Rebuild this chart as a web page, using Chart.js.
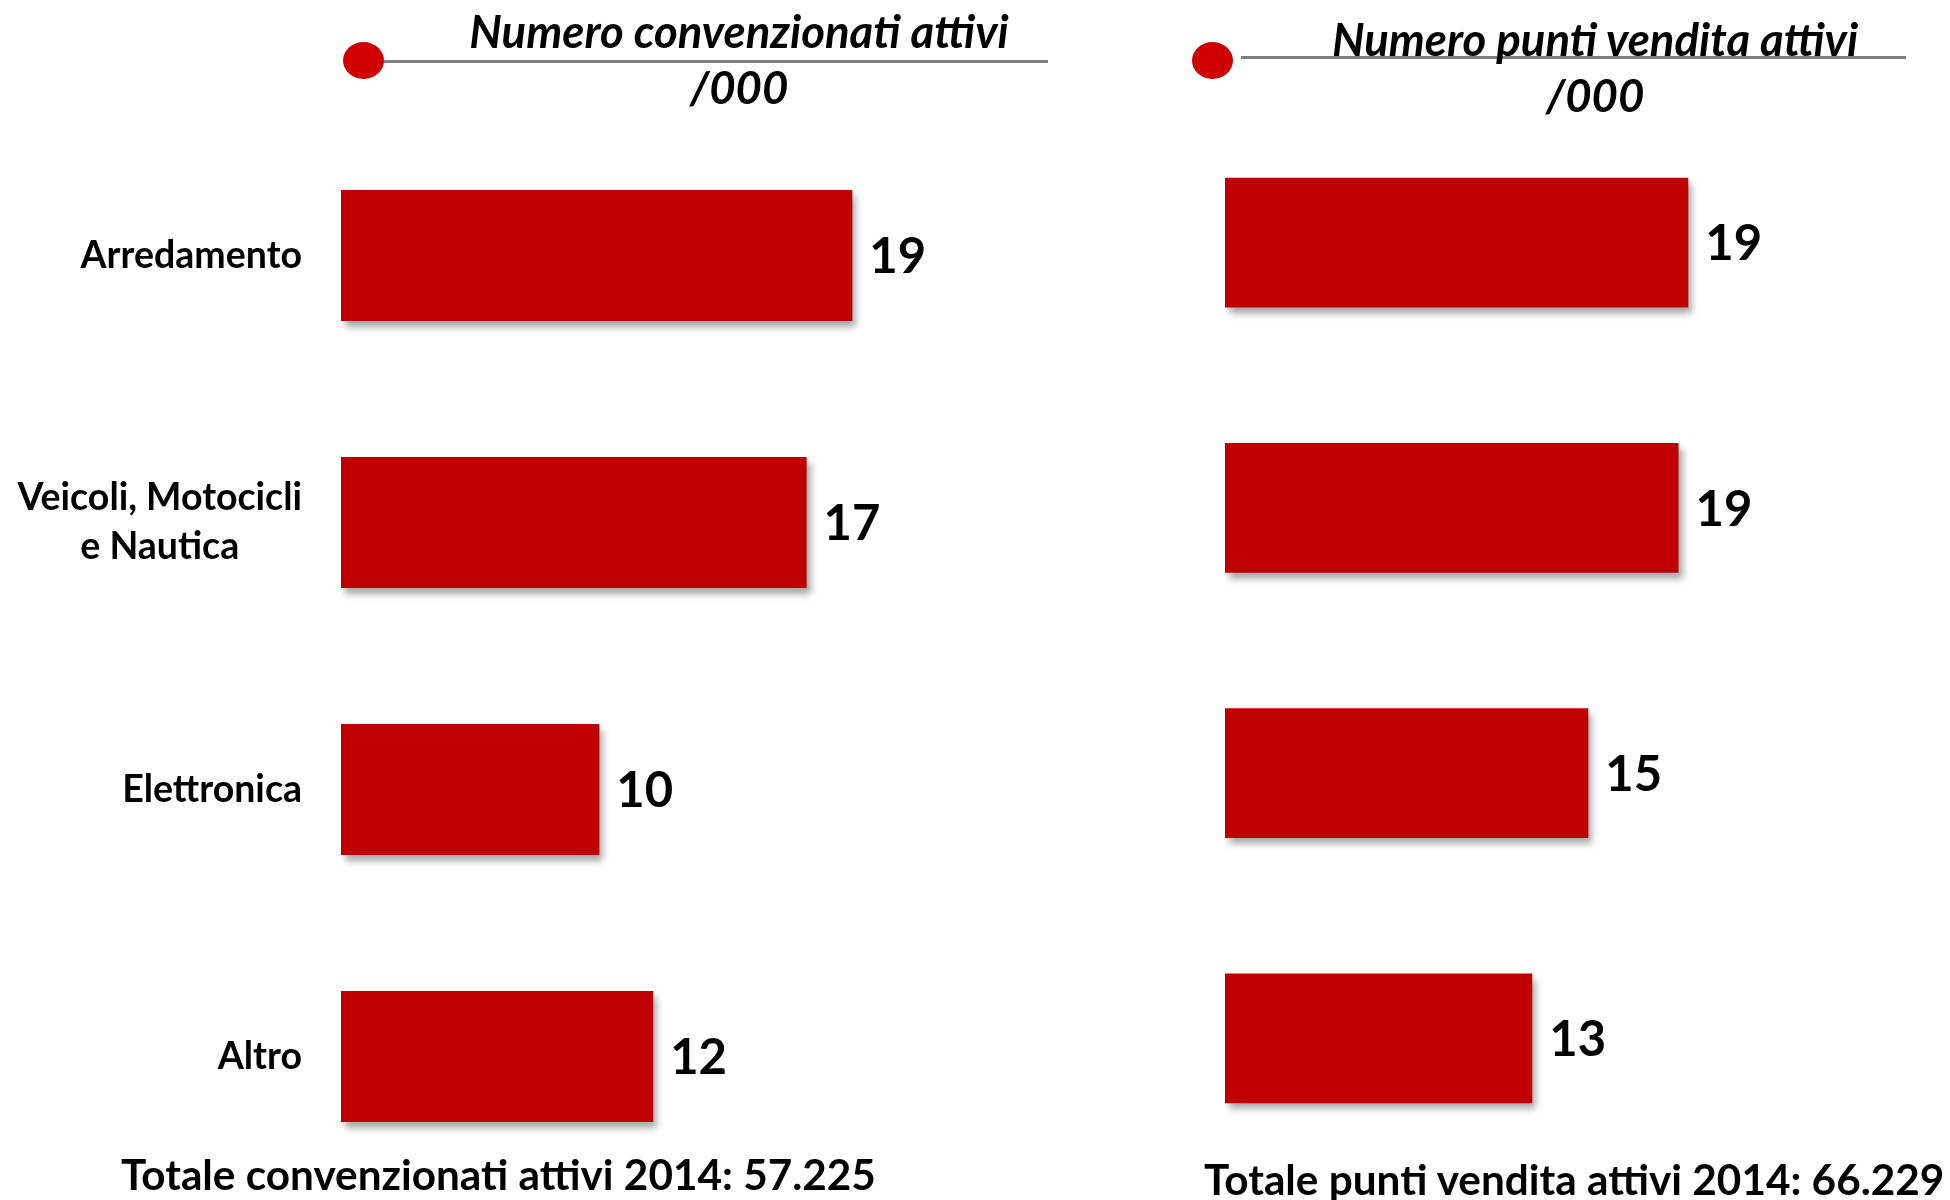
<!DOCTYPE html>
<html>
<head>
<meta charset="utf-8">
<script src="https://cdn.jsdelivr.net/npm/chart.js@4"></script>
<style>
  html, body { margin: 0; padding: 0; background: #fff; }
  body { width: 1950px; height: 1200px; position: relative; overflow: hidden; font-family: Lato, sans-serif; }
  canvas { position: absolute; top: 0; }
  .title { position: absolute; font-weight: bold; font-style: italic; font-size: 45.5px; line-height: 56px; text-align: center; color: #000; z-index: 2; }
  .rule { position: absolute; height: 3px; background: #808080; z-index: 1; }
  .dot { position: absolute; width: 41px; height: 37px; border-radius: 50%; background: #d00000; z-index: 1; }
  .total { position: absolute; font-weight: bold; font-size: 42.3px; line-height: 50px; white-space: nowrap; color: #000; }
</style>
</head>
<body>
<div class="rule" style="left:363px; top:60px; width:685px;"></div>
<div class="dot" style="left:343px; top:42px;"></div>
<div class="title" style="left:389px; top:3px; width:700px;">Numero convenzionati attivi<br>/000</div>

<div class="rule" style="left:1241px; top:56px; width:665px;"></div>
<div class="dot" style="left:1192px; top:42px;"></div>
<div class="title" style="left:1245px; top:11px; width:700px;">Numero punti vendita attivi<br>/000</div>

<canvas id="leftChart" width="975" height="1200" style="left:0;"></canvas>
<canvas id="rightChart" width="975" height="1200" style="left:975px;"></canvas>

<div class="total" style="left:121px; top:1149px;">Totale convenzionati attivi 2014: 57.225</div>
<div class="total" style="left:1204px; top:1154px;">Totale punti vendita attivi 2014: 66.229</div>

<script>
const categories = ['Arredamento', ['Veicoli, Motocicli', 'e Nautica'], 'Elettronica', 'Altro'];
const convenzionati = [19.0, 17.3, 9.6, 11.6];
const puntiVendita = [19.0, 18.6, 14.9, 12.6];

const barColor = '#C00000';

// soft drop shadow under the bars
const barShadow = {
    id: 'barShadow',
    beforeDatasetsDraw(chart) {
        const c = chart.ctx;
        c.save();
        c.shadowColor = 'rgba(0, 0, 0, 0.35)';
        c.shadowBlur = 7;
        c.shadowOffsetX = 4;
        c.shadowOffsetY = 6;
    },
    afterDatasetsDraw(chart) {
        chart.ctx.restore();
    }
};

// rounded value to the right of each bar
const valueLabels = {
    id: 'valueLabels',
    afterDraw(chart) {
        const c = chart.ctx;
        const meta = chart.getDatasetMeta(0);
        const values = chart.data.datasets[0].data;
        c.save();
        c.font = 'bold 49px Lato';
        c.fillStyle = '#000';
        c.textAlign = 'left';
        c.textBaseline = 'middle';
        meta.data.forEach((bar, i) => {
            c.fillText(Math.round(values[i]), bar.x + 17, bar.y + 2);
        });
        c.restore();
    }
};

// category names, right aligned, multi-line blocks centred on themselves
const categoryLabels = {
    id: 'categoryLabels',
    afterDraw(chart) {
        const c = chart.ctx;
        const yScale = chart.scales.y;
        const right = 302;
        const lineGap = 49;
        c.save();
        c.font = 'bold 37.5px Lato';
        c.fillStyle = '#000';
        c.textBaseline = 'middle';
        chart.data.labels.forEach((label, i) => {
            const lines = Array.isArray(label) ? label : [label];
            const y = yScale.getPixelForValue(i);
            const widest = Math.max(...lines.map(l => c.measureText(l).width));
            const y0 = y - (lines.length - 1) * lineGap / 2;
            lines.forEach((line, j) => {
                if (lines.length > 1) {
                    c.textAlign = 'center';
                    c.fillText(line, right - widest / 2, y0 + j * lineGap);
                } else {
                    c.textAlign = 'right';
                    c.fillText(line, right, y0);
                }
            });
        });
        c.restore();
    }
};

function makeOptions(xMax, padding) {
    return {
        indexAxis: 'y',
        responsive: false,
        animation: false,
        layout: { padding: padding },
        plugins: {
            legend: { display: false },
            tooltip: { enabled: false }
        },
        scales: {
            x: { min: 0, max: xMax, display: false },
            y: { display: false }
        }
    };
}

new Chart(document.getElementById('leftChart').getContext('2d'), {
    type: 'bar',
    data: {
        labels: categories,
        datasets: [{
            data: convenzionati,
            backgroundColor: barColor,
            borderWidth: 0,
            barPercentage: 0.49,
            categoryPercentage: 1
        }]
    },
    options: makeOptions(23, { left: 341, right: 15, top: 122, bottom: 10 }),
    plugins: [barShadow, valueLabels, categoryLabels]
});

new Chart(document.getElementById('rightChart').getContext('2d'), {
    type: 'bar',
    data: {
        labels: categories,
        datasets: [{
            data: puntiVendita,
            backgroundColor: barColor,
            borderWidth: 0,
            barPercentage: 0.49,
            categoryPercentage: 1
        }]
    },
    options: makeOptions(26, { left: 250, right: 91, top: 110, bottom: 29 }),
    plugins: [barShadow, valueLabels]
});
</script>
</body>
</html>
